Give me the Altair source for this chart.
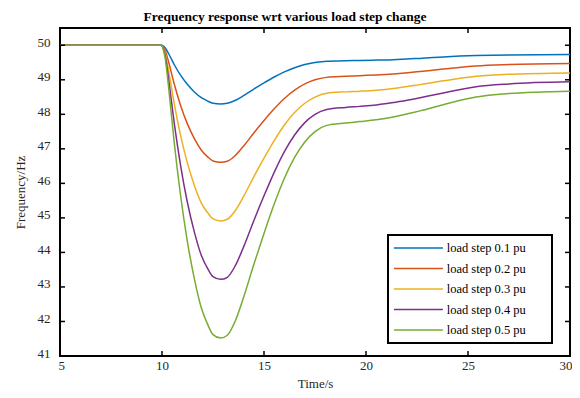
import altair as alt
import pandas as pd

time_s = [5, 10, 10.15, 10.34, 10.59, 10.9, 11.24, 11.6, 11.93, 12.25, 12.5, 12.88, 13.2, 13.58,
          14.0, 14.5, 15.0, 15.5, 16.0, 16.5, 17.0, 17.5, 18.07, 19.0, 19.7, 20.5, 21.34, 22.16,
          22.65, 23.79, 25.4, 27, 30]

step_01 = [50, 50, 49.93, 49.74, 49.45, 49.14, 48.87, 48.64, 48.48, 48.38, 48.32, 48.30, 48.32,
           48.40, 48.54, 48.73, 48.91, 49.08, 49.23, 49.35, 49.44, 49.50, 49.54, 49.55, 49.56,
           49.57, 49.58, 49.61, 49.62, 49.66, 49.70, 49.72, 49.73]
step_02 = [50, 50, 49.86, 49.48, 48.90, 48.28, 47.73, 47.28, 46.96, 46.76, 46.65, 46.61, 46.64,
           46.80, 47.08, 47.46, 47.82, 48.16, 48.46, 48.70, 48.88, 49.00, 49.07, 49.10, 49.12,
           49.14, 49.17, 49.21, 49.24, 49.31, 49.40, 49.44, 49.47]
step_03 = [50, 50, 49.79, 49.21, 48.34, 47.42, 46.60, 45.92, 45.43, 45.14, 44.97, 44.91, 44.96,
           45.20, 45.62, 46.19, 46.73, 47.24, 47.69, 48.05, 48.32, 48.50, 48.61, 48.65, 48.67,
           48.70, 48.75, 48.82, 48.86, 48.97, 49.10, 49.16, 49.20]
step_04 = [50, 50, 49.72, 48.95, 47.79, 46.56, 45.46, 44.56, 43.91, 43.52, 43.30, 43.22, 43.28,
           43.60, 44.16, 44.92, 45.64, 46.32, 46.92, 47.40, 47.76, 48.00, 48.14, 48.20, 48.23,
           48.27, 48.34, 48.42, 48.48, 48.62, 48.80, 48.88, 48.94]
step_05 = [50, 50, 49.65, 48.69, 47.24, 45.70, 44.33, 43.20, 42.39, 41.90, 41.62, 41.52, 41.60,
           42.00, 42.70, 43.65, 44.55, 45.40, 46.15, 46.75, 47.20, 47.50, 47.68, 47.75, 47.79,
           47.84, 47.92, 48.03, 48.10, 48.28, 48.50, 48.60, 48.67]

series_labels = ["load step 0.1 pu", "load step 0.2 pu", "load step 0.3 pu",
                 "load step 0.4 pu", "load step 0.5 pu"]
series_colors = ["#0072BD", "#D95319", "#EDB120", "#7E2F8E", "#77AC30"]
x_ticks = [5, 10, 15, 20, 25, 30]
y_ticks = [41, 42, 43, 44, 45, 46, 47, 48, 49, 50]
x_inner_ticks = [10, 15, 20, 25]
y_inner_ticks = [42, 43, 44, 45, 46, 47, 48, 49, 50]
step_time = 10

rows = []
for lab, vals in zip(series_labels, [step_01, step_02, step_03, step_04, step_05]):
    for t, v in zip(time_s, vals):
        if t <= step_time:
            rows.append({"time": t, "freq": v, "series": lab, "seg": lab + " pre"})
        if t >= step_time:
            rows.append({"time": t, "freq": v, "series": lab, "seg": lab + " post"})
df = pd.DataFrame(rows)

W, H = 510, 328
FONT = "Liberation Serif"
xs = alt.Scale(domain=[5, 30], nice=False)
ys = alt.Scale(domain=[41, 50.5], nice=False, zero=False)

x_axis = alt.Axis(values=x_ticks, title="Time/s", labelFlush=True, labelFlushOffset=2,
                  labelPadding=3, titlePadding=5)
y_axis = alt.Axis(values=y_ticks, title="Frequency/Hz", labelPadding=10,
                  labelOffset=-3, titlePadding=10)

pad_chars = "\u2800" * 2

lines = alt.Chart(df).mark_line(strokeWidth=1.5, interpolate="monotone").encode(
    x=alt.X("time:Q", scale=xs, axis=x_axis),
    y=alt.Y("freq:Q", scale=ys, axis=y_axis),
    detail="seg:N",
    color=alt.Color("series:N",
                    scale=alt.Scale(domain=series_labels, range=series_colors),
                    legend=alt.Legend(orient="none", legendX=328, legendY=207, title=None,
                                      symbolType="M-4,0H4", symbolSize=150,
                                      symbolOffset=17.4, symbolStrokeWidth=1.5,
                                      labelFont=FONT, labelFontSize=12.5,
                                      labelColor="black", labelOffset=21.3,
                                      strokeColor="black", padding=6, rowPadding=6.5,
                                      labelExpr="datum.label + '" + pad_chars + "'")),
)

xt = pd.DataFrame({"time": x_inner_ticks})
yt = pd.DataFrame({"freq": y_inner_ticks})

tick_top = alt.Chart(xt).mark_rule(color="black", strokeWidth=1.5).encode(
    x=alt.X("time:Q", scale=xs, axis=x_axis), y=alt.value(0), y2=alt.value(5))
tick_bot = alt.Chart(xt).mark_rule(color="black", strokeWidth=1.5).encode(
    x=alt.X("time:Q", scale=xs, axis=x_axis), y=alt.value(H - 5), y2=alt.value(H))
tick_left = alt.Chart(yt).mark_rule(color="black", strokeWidth=1.5).encode(
    y=alt.Y("freq:Q", scale=ys, axis=y_axis), x=alt.value(0), x2=alt.value(5))
tick_right = alt.Chart(yt).mark_rule(color="black", strokeWidth=1.5).encode(
    y=alt.Y("freq:Q", scale=ys, axis=y_axis), x=alt.value(W - 5), x2=alt.value(W))

chart = alt.layer(lines, tick_top, tick_bot, tick_left, tick_right).properties(
    width=W, height=H,
    autosize=alt.AutoSizeParams(type="none"),
    padding={"left": 52, "top": 20, "right": 2, "bottom": 34},
    title=alt.TitleParams("Frequency response wrt various load step change", font=FONT,
                          fontSize=13.5, fontWeight="bold", color="black",
                          anchor="middle", dx=-30, dy=12, baseline="alphabetic", offset=5,
                          frame="group"),
).configure_view(stroke="black", strokeWidth=2).configure_axis(
    grid=False, domain=False, ticks=False, tickSize=0,
    labelFont=FONT, labelFontSize=13, labelColor="#262626",
    titleFont=FONT, titleFontSize=13, titleFontWeight="normal", titleColor="#262626",
).configure_legend(strokeWidth=2)

chart.save("out.html", embed_options={"renderer": "svg", "actions": False})
